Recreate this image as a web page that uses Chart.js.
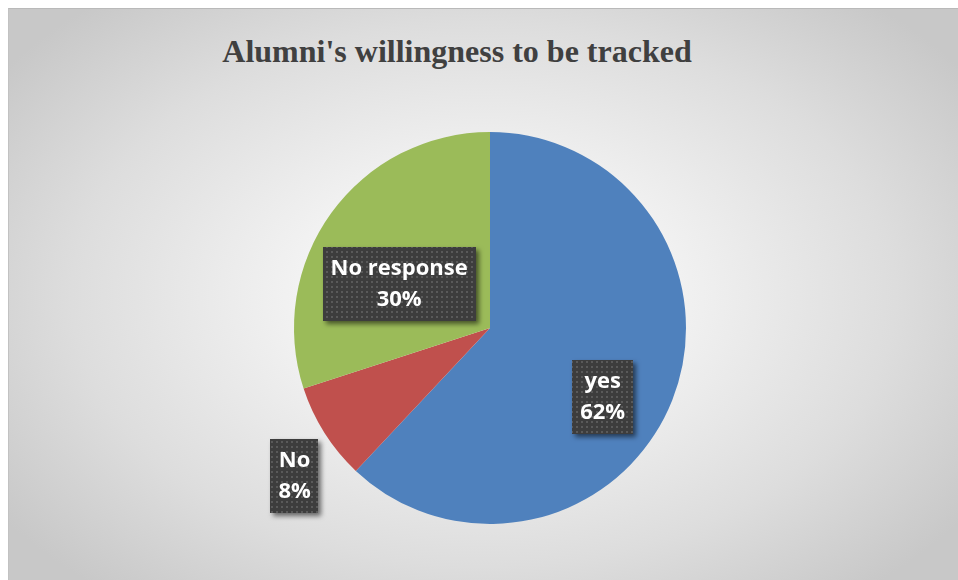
<!DOCTYPE html>
<html>
<head>
  <title>Alumni's willingness to be tracked</title>
  <script src="https://cdn.jsdelivr.net/npm/chart.js"></script>
  <style>
    body { margin: 0; background: #fff; width: 958px; height: 580px; overflow: hidden; }
    .chart-box { position: absolute; left: 8px; top: 8px; width: 950px; height: 572px;
      background: radial-gradient(ellipse 62% 68% at 50% 50%, #ffffff 0%, #f3f3f3 30%, #dddddd 70%, #c8c8c8 100%);
      border-top: 1px solid #b9b9b9; border-left: 1px solid #c2c2c2; box-sizing: border-box; }
    .chart-title { position: absolute; left: 0; width: 896px; top: 24px; text-align: center;
      font-family: "Liberation Serif", "Times New Roman", serif; font-weight: bold; font-size: 32px; color: #404040; }
    canvas { position: absolute; left: 0; top: 0; }
  </style>
</head>
<body>
  <div class="chart-box">
    <div class="chart-title">Alumni's willingness to be tracked</div>
    <canvas id="pie" width="950" height="572"></canvas>
  </div>

  <script>
    const categories = ['yes', 'No', 'No response'];
    const shares = [62, 8, 30];
    const sliceColors = ['#4f81bd', '#c0504d', '#9bbb59'];

    // dark dotted fill used behind the data labels
    function dotPattern(ctx) {
      const c = document.createElement('canvas');
      c.width = 5; c.height = 5;
      const g = c.getContext('2d');
      g.fillStyle = '#3d3d3d';
      g.fillRect(0, 0, 5, 5);
      g.fillStyle = '#5a5a5a';
      g.fillRect(2, 2, 2, 2);
      return ctx.createPattern(c, 'repeat');
    }

    const boxLabels = {
      id: 'boxLabels',
      afterDatasetsDraw(chart, args, opts) {
        const ctx = chart.ctx;
        const meta = chart.getDatasetMeta(0);
        const pattern = dotPattern(ctx);
        ctx.save();
        ctx.font = 'bold 22px "Open Sans", sans-serif';
        meta.data.forEach((arc, i) => {
          const p = opts.place[i];
          const mid = (arc.startAngle + arc.endAngle) / 2 + p.da * Math.PI / 180;
          const r = arc.outerRadius * p.rf;
          const cx = arc.x + Math.cos(mid) * r;
          const cy = arc.y + Math.sin(mid) * r;
          const lines = [categories[i], shares[i] + '%'];
          const w = Math.max(...lines.map(t => ctx.measureText(t).width)) + 16;
          const lh = 31, h = lines.length * lh + 12;
          ctx.save();
          ctx.shadowColor = 'rgba(0,0,0,0.55)';
          ctx.shadowOffsetX = 3;
          ctx.shadowOffsetY = 3;
          ctx.shadowBlur = 5;
          ctx.fillStyle = pattern;
          ctx.fillRect(Math.round(cx - w / 2), Math.round(cy - h / 2), Math.round(w), h);
          ctx.restore();
          ctx.fillStyle = '#ffffff';
          ctx.textAlign = 'center';
          ctx.textBaseline = 'middle';
          lines.forEach((t, k) => {
            ctx.fillText(t, cx, cy - h / 2 + 6 + lh * k + lh / 2);
          });
        });
        ctx.restore();
      }
    };

    new Chart(document.getElementById('pie').getContext('2d'), {
      type: 'pie',
      data: {
        labels: categories,
        datasets: [{ data: shares, backgroundColor: sliceColors, borderWidth: 0 }]
      },
      options: {
        responsive: false,
        animation: false,
        layout: { padding: { left: 86, right: 74, top: 123, bottom: 57 } },
        plugins: {
          legend: { display: false },
          tooltip: { enabled: false },
          boxLabels: { place: [ { da: 10, rf: 0.675 }, { da: -4.7, rf: 1.25 }, { da: -10.2, rf: 0.515 } ] }
        }
      },
      plugins: [boxLabels]
    });
  </script>
</body>
</html>
